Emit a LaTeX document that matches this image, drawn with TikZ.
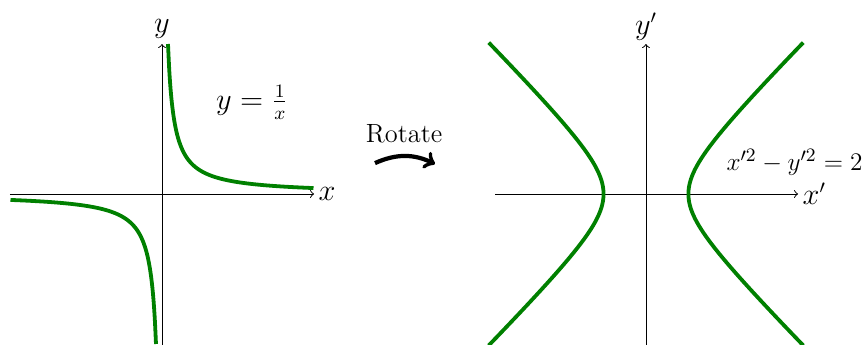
\documentclass[tikz,border=0pt]{standalone}
\usepackage{amsmath}
\begin{document}
\begin{tikzpicture}[x=0.5cm,y=0.5cm,
  axis/.style={line width=0.45pt,->},
  curve/.style={line width=1.8pt,green!50!black},
  lbl/.style={font=\fontsize{13.5}{16}\selectfont},
  rotarrow/.style={line width=2pt,->,bend left=25}]
\useasboundingbox (-5.4,-5.033) rectangle (23.467,6.467);
% left plot
\coordinate (lxs) at (-5.07,0);
\coordinate (lxe) at (5.07,0);
\coordinate (lys) at (0,-5.2);
\coordinate (lye) at (0,5.0);
\draw[axis] (lxs) -- (lxe);
\draw[axis] (lys) -- (lye);
\node[lbl,right,inner sep=2pt] (lx) at (lxe) {$x$};
\node[lbl,above,inner sep=2.5pt] (ly) at (lye) {$y$};
\draw[curve] plot[domain=0.2:5.05,samples=120,smooth] (\x,{1/\x});
\draw[curve] plot[domain=-5.05:-0.2,samples=120,smooth] (\x,{1/\x});
\node[lbl] (eq1) at (3,3.05) {$y=\frac{1}{x}$};
% rotate
\node[lbl,font=\fontsize{12.5}{15}\selectfont] (rot) at (8.07,2.0) {Rotate};
\coordinate (ra) at (7.1,1.03);
\coordinate (rb) at (9.1,1.0);
\draw[rotarrow] (ra) to (rb);
% right plot
\begin{scope}[shift={(16.133,0)}]
\coordinate (rxs) at (-5.03,0);
\coordinate (rxe) at (5.07,0);
\coordinate (rys) at (0,-5.2);
\coordinate (rye) at (0,5.0);
\draw[axis] (rxs) -- (rxe);
\draw[axis] (rys) -- (rye);
\node[lbl,right,inner sep=2pt] (rx) at (rxe) {$x'$};
\node[lbl,above,inner sep=1.5pt] (ry) at (rye) {$y'$};
\draw[curve] plot[domain=-1.985:1.985,samples=120,smooth] ({sqrt(2)*cosh(\x)},{sqrt(2)*sinh(\x)});
\draw[curve] plot[domain=-1.985:1.985,samples=120,smooth] ({-sqrt(2)*cosh(\x)},{sqrt(2)*sinh(\x)});
\node[font=\fontsize{12.5}{15}\selectfont,anchor=east,inner sep=1pt] (eq2) at (7.3,1.05) {$x'^2-y'^2=2$};
\end{scope}
\end{tikzpicture}
\end{document}
